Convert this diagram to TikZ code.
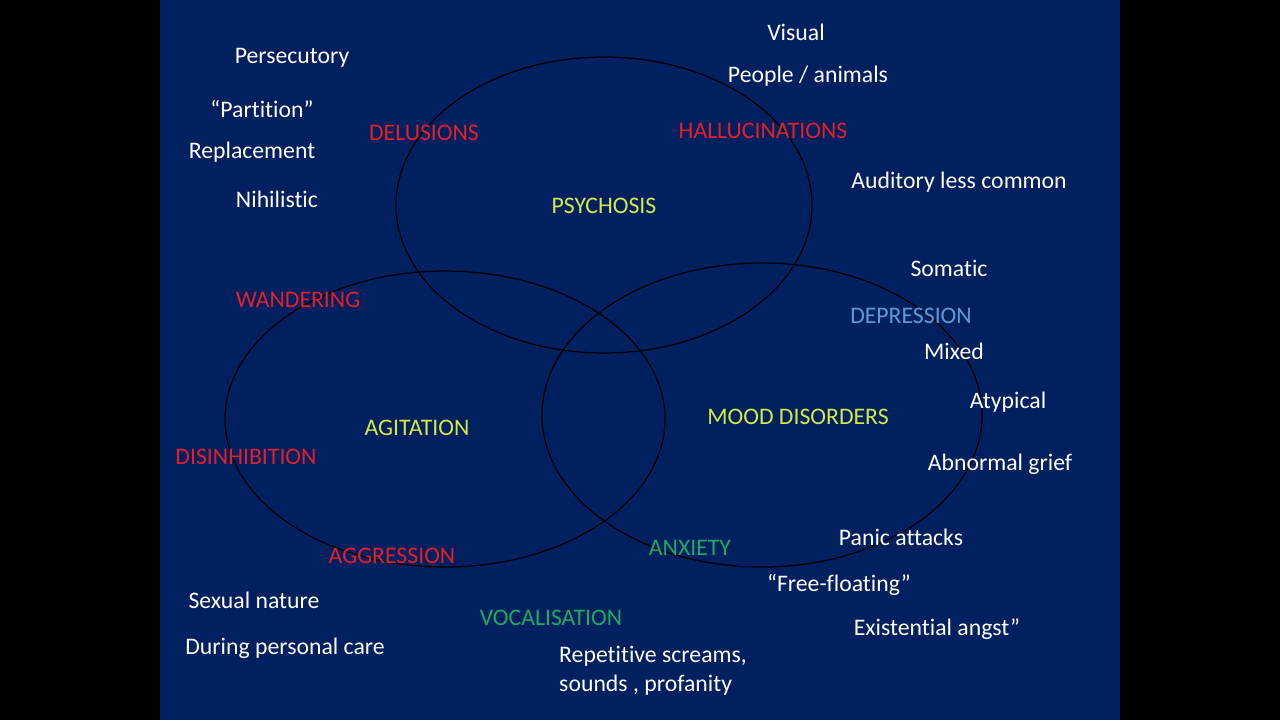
\documentclass[tikz,border=0pt]{standalone}
\usepackage{fontspec}
\setmainfont[Ligatures=NoCommon]{Carlito}
\usepackage{tikz}
\definecolor{slidebg}{RGB}{0,32,96}
\definecolor{hdred}{RGB}{230,30,40}
\definecolor{hdyellow}{RGB}{214,232,70}
\definecolor{hdgreen}{RGB}{30,168,96}
\definecolor{hdblue}{RGB}{91,155,213}

\begin{document}
\begin{tikzpicture}[x=0.01cm, y=-0.01cm,
  lbl/.style={font=\fontsize{6.75}{8.2}\selectfont, inner sep=0pt},
  item/.style={lbl, text=white},
  cause/.style={lbl, text=hdred},
  group/.style={lbl, text=hdyellow},
  anx/.style={lbl, text=hdgreen},
  dep/.style={lbl, text=hdblue},
  ring/.style={draw=black, line width=0.35pt}]
  % slide
  \fill[black] (0,0) rectangle (1280,720);
  \fill[slidebg] (160,0) rectangle (1120,720);
  \useasboundingbox (0,0) rectangle (1280,720);

  % the three sets
  \draw[ring] (604,205) ellipse (208 and 148);
  \draw[ring] (445,419) ellipse (220 and 148);
  \draw[ring] (762,415) ellipse (220 and 152);

  % group names
  \node[group] (psychosis) at (604,206) {PSYCHOSIS};
  \node[group] (agitation) at (417,428) {AGITATION};
  \node[group] (mood) at (798,417) {MOOD DISORDERS};

  % psychosis
  \node[cause] (delusions) at (424,133) {DELUSIONS};
  \node[item] (persecutory) at (292,58) {Persecutory};
  \node[item] (partition) at (262,109) {“Partition”};
  \node[item] (replacement) at (252,152) {Replacement};
  \node[item] (nihilistic) at (277,199) {Nihilistic};
  \node[cause] (halluc) at (763,131) {HALLUCINATIONS};
  \node[item] (visual) at (796,32) {Visual};
  \node[item] (people) at (808,76) {People / animals};
  \node[item] (auditory) at (959,182) {Auditory less common};

  % agitation
  \node[cause] (wandering) at (298,300) {WANDERING};
  \node[cause] (disinhib) at (246,457) {DISINHIBITION};
  \node[cause] (aggression) at (392,556) {AGGRESSION};
  \node[item] (sexual) at (254,600) {Sexual nature};
  \node[item] (care) at (285,648) {During personal care};
  \node[anx] (vocal) at (551,618) {VOCALISATION};
  \node[item, align=left] (screams) at (653,671) {Repetitive screams,\\sounds , profanity};

  % mood
  \node[dep] (depression) at (911,316) {DEPRESSION};
  \node[item] (somatic) at (949,268) {Somatic};
  \node[item] (mixed) at (954,351) {Mixed};
  \node[item] (atypical) at (1008,402) {Atypical};
  \node[item] (grief) at (1000,464) {Abnormal grief};
  \node[anx] (anxiety) at (690,548) {ANXIETY};
  \node[item] (panic) at (901,537) {Panic attacks};
  \node[item] (floating) at (839,585) {“Free-floating”};
  \node[item] (angst) at (937,629) {Existential angst”};
\end{tikzpicture}
\end{document}
